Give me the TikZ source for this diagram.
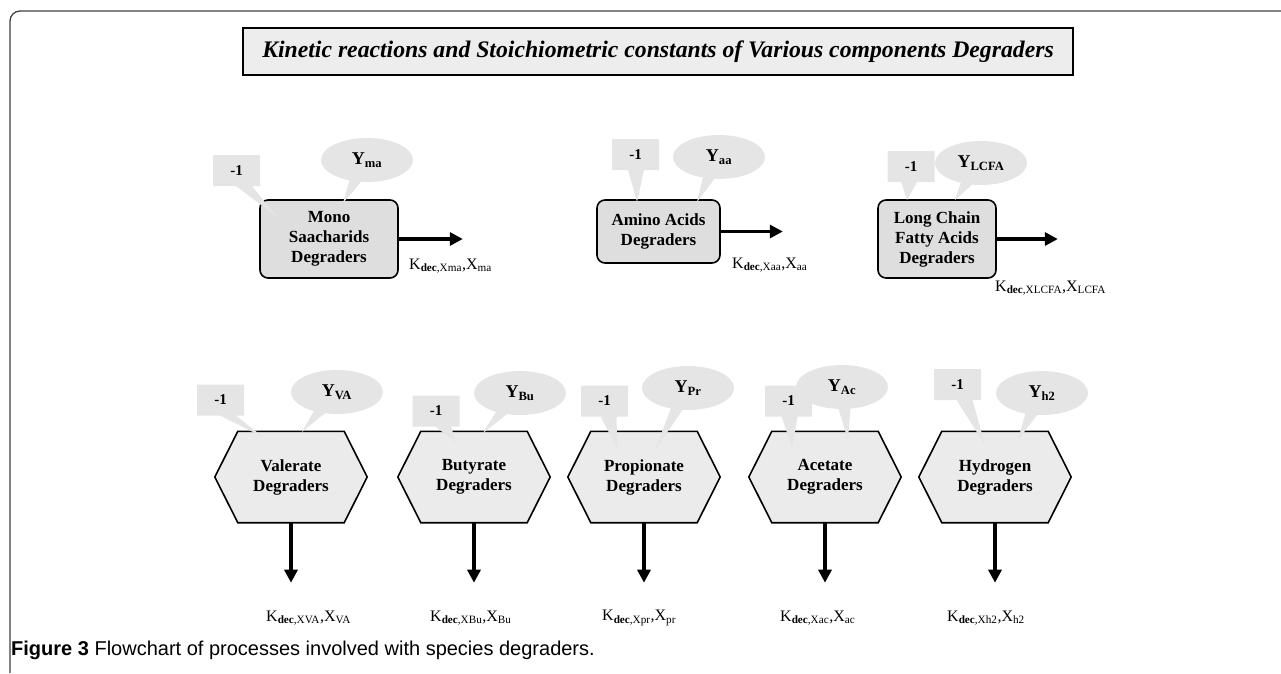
\documentclass[tikz,border=0pt]{standalone}
\usepackage{fontspec}
\setmainfont{Liberation Serif}
\newfontfamily\capfont{Liberation Sans}
\usetikzlibrary{positioning,shapes.callouts,arrows.meta,backgrounds}

\definecolor{boxgray}{gray}{0.87}
\definecolor{hexgray}{gray}{0.92}
\definecolor{callgray}{gray}{0.9}
\definecolor{titlegray}{gray}{0.93}

% rate label and yield text
\newcommand{\kdec}[2]{K\textsubscript{\textbf{dec},#1},X\textsubscript{#2}}
\newcommand{\yld}[1]{Y\textsubscript{#1}}

\begin{document}
\begin{tikzpicture}[x=1pt, y=-1pt, node distance = 60pt and 64pt,
proc/.style ={rectangle, rounded corners=8pt, draw, line width=1.6pt, fill=boxgray, align=center, inner sep=0pt, font=\fontsize{17}{20}\selectfont\bfseries},
hexa/.style ={rectangle, minimum width=106pt, minimum height=91pt, align=center, inner sep=0pt, font=\fontsize{17}{20}\selectfont\bfseries},
hexline/.style={draw, line width=1.6pt, fill=hexgray, line join=miter},
coef/.style ={rectangle callout, fill=callgray, minimum width=47pt, minimum height=31pt, inner sep=0pt, callout pointer width=16pt, font=\fontsize{15}{18}\selectfont\bfseries},
yield/.style={ellipse callout, fill=callgray, minimum width=92pt, minimum height=44pt, inner sep=0pt, callout pointer width=16pt, font=\fontsize{18}{20}\selectfont\bfseries},
flow/.style ={line width=3.2pt, -{Triangle[length=13pt,width=13pt]}},
rate/.style ={anchor=west, inner sep=0pt, font=\fontsize{16}{18}\selectfont}]
\useasboundingbox (0,0) rectangle (1281,673);
% frame and title
\draw[line width=1.3pt, black!75, rounded corners=10pt] (10,673) |- (1281,11);
\node[draw, line width=1.8pt, fill=titlegray, minimum width=830pt, minimum height=47pt, font=\fontsize{23.7}{26}\selectfont\bfseries\itshape] (title) at (658,51.5)
  {Kinetic reactions and Stoichiometric constants of Various components Degraders};
% top row
\node[proc, minimum width=138pt, minimum height=78pt] (ms) at (329,239) {Mono\\Saacharids\\Degraders};
\node[proc, minimum width=123pt, minimum height=63pt] (aa) at (658.5,231.5) {Amino Acids\\Degraders};
\node[proc, minimum width=118pt, minimum height=78pt] (lc) at (937,239) {Long Chain\\Fatty Acids\\Degraders};
\coordinate[right = of ms] (msout);
\coordinate[right = 62pt of aa] (aaout);
\coordinate[right = 61pt of lc] (lcout);
\draw[flow] (ms) -- (msout);
\draw[flow] (aa) -- (aaout);
\draw[flow] (lc) -- (lcout);
\node[rate] (kms) at (409,266) {\kdec{Xma}{ma}};
\node[rate] (kaa) at (732,265) {\kdec{Xaa}{aa}};
\node[rate] (klc) at (995,288) {\kdec{XLCFA}{LCFA}};
% bottom row
\node[hexa] (val) at (291,477) {Valerate\\Degraders};
\node[hexa] (but) at (474,477) {Butyrate\\Degraders};
\node[hexa] (pro) at (644,477) {Propionate\\Degraders};
\node[hexa] (ace) at (825,477) {Acetate\\Degraders};
\node[hexa] (hyd) at (995,477) {Hydrogen\\Degraders};
\begin{scope}[on background layer]
\foreach \h in {val,but,pro,ace,hyd}
  \draw[hexline] (\h.north west) -- (\h.north east) -- ([xshift=23pt]\h.east) -- (\h.south east) -- (\h.south west) -- ([xshift=-23pt]\h.west) -- cycle;
\end{scope}
\foreach \h in {val,but,pro,ace,hyd} {
  \coordinate[below = of \h] (\h out);
  \draw[flow] (\h) -- (\h out);
}
\node[rate] (kval) at (266,618) {\kdec{XVA}{VA}};
\node[rate] (kbut) at (430,618) {\kdec{XBu}{Bu}};
\node[rate] (kpro) at (602,618) {\kdec{Xpr}{pr}};
\node[rate] (kace) at (780,618) {\kdec{Xac}{ac}};
\node[rate] (khyd) at (947,618) {\kdec{Xh2}{h2}};
% yields
\node[yield, callout absolute pointer={(343,203)}] (yms) at (367,160) {\yld{ma}};
\node[yield, callout absolute pointer={(697,202)}] (yaa) at (719,157) {\yld{aa}};
\node[yield, callout absolute pointer={(955,200)}] (ylc) at (981,163) {\yld{LCFA}};
\node[yield, callout absolute pointer={(302,432)}] (yval) at (337,392) {\yld{VA}};
\node[yield, callout absolute pointer={(483,433)}] (ybut) at (520,393) {\yld{Bu}};
\node[yield, callout absolute pointer={(655,450)}] (ypro) at (688,388) {\yld{Pr}};
\node[yield, callout absolute pointer={(848,440)}] (yace) at (842,387) {\yld{Ac}};
\node[yield, callout absolute pointer={(1018,440)}] (yhyd) at (1042,393) {\yld{h2}};
% stoichiometric -1
\node[coef, callout absolute pointer={(277,217)}] (cms) at (236.5,170.5) {-1};
\node[coef, callout absolute pointer={(637,202)}] (caa) at (635.5,154.5) {-1};
\node[coef, callout absolute pointer={(907,200)}] (clc) at (911,166.5) {-1};
\node[coef, callout absolute pointer={(263,437)}] (cval) at (220.5,400) {-1};
\node[coef, callout absolute pointer={(455,442)}] (cbut) at (436,411) {-1};
\node[coef, callout absolute pointer={(617,448)}] (cpro) at (604.5,401) {-1};
\node[coef, callout absolute pointer={(792,448)}] (cace) at (788.5,401) {-1};
\node[coef, callout absolute pointer={(985,445)}] (chyd) at (957.5,384.5) {-1};
% caption
\node[anchor=base west, inner sep=0pt, font=\capfont\fontsize{20}{23}\selectfont] (cap) at (11,655)
  {\textbf{Figure 3} Flowchart of processes involved with species degraders.};
\end{tikzpicture}
\end{document}
